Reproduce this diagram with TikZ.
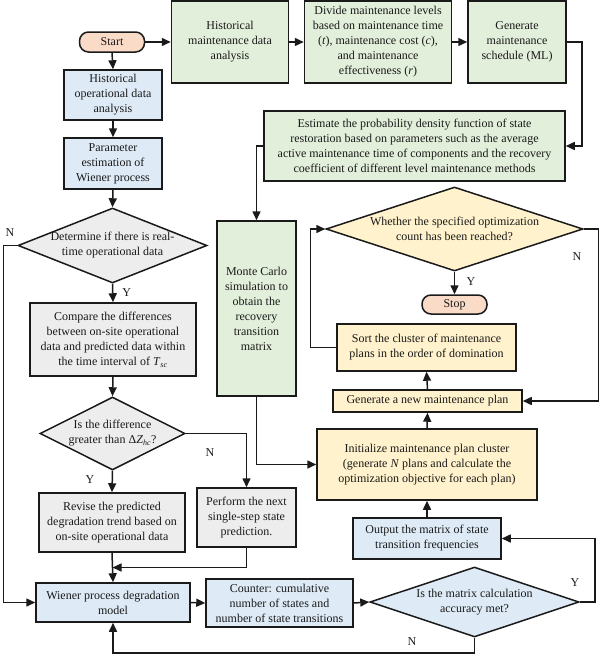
\documentclass[tikz,border=0pt]{standalone}
\usepackage{fontspec}
\setmainfont{Liberation Serif}
\usetikzlibrary{arrows.meta,shapes.geometric,calc}
\definecolor{cgreen}{HTML}{E2EFDA}
\definecolor{cblue}{HTML}{DEEBF7}
\definecolor{cgray}{HTML}{EDEDED}
\definecolor{cyellow}{HTML}{FFF2CC}
\definecolor{cpeach}{HTML}{FADBC8}
\definecolor{ink}{HTML}{1A1A1A}
\begin{document}
\begin{tikzpicture}[x=1pt,y=-1pt,
  every node/.style={font=\fontsize{12}{15}\selectfont, text=ink},
  box/.style={draw=ink, line width=1.5pt, align=center, inner sep=0pt},
  term/.style={box, rounded corners=9pt, fill=cpeach},
  dia/.style={draw=ink, line width=1.5pt, diamond, inner sep=0pt},
  txt/.style={align=center, inner sep=0pt},
  lbl/.style={inner sep=0pt},
  arr/.style={draw=ink, -{Triangle[length=9pt,width=8pt]}, line width=1.5pt}]
\useasboundingbox (0,0) rectangle (599,656);
% top row
\node[term, minimum width=65pt, minimum height=20pt] (start) at (112,42) {Start};
\node[box, fill=cgreen, minimum width=117pt, minimum height=82pt] (hm) at (230,42) {Historical\\maintenance data\\analysis};
\node[box, fill=cgreen, minimum width=147pt, minimum height=82pt] (div) at (378,42) {Divide maintenance levels\\based on maintenance time\\(\textit{t}), maintenance cost (\textit{c}),\\and maintenance\\effectiveness (\textit{r})};
\node[box, fill=cgreen, minimum width=98pt, minimum height=82pt] (gen) at (517,42) {Generate\\maintenance\\schedule (ML)};
\node[box, fill=cgreen, minimum width=301pt, minimum height=70pt] (est) at (414.5,146) {Estimate the probability density function of state\\restoration based on parameters such as the average\\active maintenance time of components and the recovery\\coefficient of different level maintenance methods};
\node[box, fill=cgreen, minimum width=79pt, minimum height=175pt] (mc) at (256.5,308.5) {Monte Carlo\\simulation to\\obtain the\\recovery\\transition\\matrix};
% left column
\node[box, fill=cblue, minimum width=98pt, minimum height=50pt] (ho) at (113,95) {Historical\\operational data\\analysis};
\node[box, fill=cblue, minimum width=98pt, minimum height=51pt] (pe) at (113,163.5) {Parameter\\estimation of\\Wiener process};
\node[dia, fill=cgray, minimum width=189pt, minimum height=75pt] (d1) at (112.5,245.5) {};
\node[txt] at (d1) {Determine if there is real-\\time operational data};
\node[box, fill=cgray, minimum width=166pt, minimum height=73pt] (cmp) at (113,339.5) {Compare the differences\\between on-site operational\\data and predicted data within\\the time interval of \textit{T}\textsubscript{\textit{sc}}};
\node[dia, fill=cgray, minimum width=145pt, minimum height=73pt] (d2) at (112.5,433.5) {};
\node[txt] at (d2) {Is the difference\\greater than Δ\textit{Z}\textsubscript{\textit{hc}}?};
\node[box, fill=cgray, minimum width=146pt, minimum height=59pt] (rev) at (112,522.5) {Revise the predicted\\degradation trend based on\\on-site operational data};
\node[box, fill=cgray, minimum width=99pt, minimum height=59pt] (per) at (246.5,517.5) {Perform the next\\single-step state\\prediction.};
\node[box, fill=cblue, minimum width=154pt, minimum height=39pt] (wn) at (113,602.5) {Wiener process degradation\\model};
\node[box, fill=cblue, minimum width=147pt, minimum height=48pt] (cnt) at (279.5,603) {Counter: cumulative\\number of states and\\number of state transitions};
\node[dia, fill=cblue, minimum width=209pt, minimum height=70pt] (d3) at (474.5,602) {};
\node[txt] at (d3) {Is the matrix calculation\\accuracy met?};
\node[box, fill=cblue, minimum width=148pt, minimum height=41pt] (out) at (427,538.5) {Output the matrix of state\\transition frequencies};
% right column
\node[box, fill=cyellow, minimum width=220pt, minimum height=71pt] (init) at (427,464.5) {Initialize maintenance plan cluster\\(generate \textit{N} plans and calculate the\\optimization objective for each plan)};
\node[box, fill=cyellow, minimum width=189pt, minimum height=22pt] (gnew) at (427.5,401) {Generate a new maintenance plan};
\node[box, fill=cyellow, minimum width=179pt, minimum height=47pt] (sort) at (426.5,347.5) {Sort the cluster of maintenance\\plans in the order of domination};
\node[dia, fill=cyellow, minimum width=257pt, minimum height=84pt] (d4) at (454.5,229) {};
\node[txt] at (d4) {Whether the specified optimization\\count has been reached?};
\node[term, minimum width=65pt, minimum height=19pt] (stop) at (454.5,304.5) {Stop};
% connectors
\draw[arr] (start.east) -- (hm.west);
\draw[arr] (hm.east) -- (div.west);
\draw[arr] (div.east) -- (gen.west);
\draw[arr] (gen.east) -- ++(15,0) |- (est.east);
\draw[arr] (est.west) -| (mc.north);
\draw[arr] (start.south) -- (ho.north);
\draw[arr] (ho.south) -- (pe.north);
\draw[arr] (pe.south) -- (d1.north);
\draw[arr] (d1.south) -- node[lbl, right, pos=0.45, xshift=9pt] {Y} (cmp.north);
\draw[arr] (d1.west) -- ++(-14,0) |- (wn.west);
\node[lbl] (n1) at (10,233) {N};
\draw[arr] (cmp.south) -- (d2.north);
\draw[arr] (d2.south) -- (rev.north);
\node[lbl] (y2) at (90,480) {Y};
\draw[arr] (d2.east) -| (per.north);
\node[lbl] (n2) at (210,453) {N};
\draw[arr] (rev.south) -- (wn.north);
\draw[arr] (per.south) |- ($(rev.south)!0.5!(wn.north)$);
\draw[arr] (wn.east) -- (cnt.west);
\draw[arr] (cnt.east) -- (d3.west);
\draw[arr] (d3.east) -- ++(15,0) |- (out.east);
\node[lbl] (y3) at (575,583) {Y};
\draw[arr] (d3.south) -- ++(0,15) -| (wn.south);
\node[lbl] (n3) at (412,642) {N};
\draw[arr] (out.north) -- (init.south);
\draw[arr] (mc.south) |- (init.west);
\draw[arr] (init.north) -- (gnew.south);
\draw[arr] (gnew.north) -- (sort.south);
\draw[arr] (sort.west) -- ++(-26,0) |- (d4.west);
\draw[arr] (d4.east) -- ++(15,0) |- (gnew.east);
\node[lbl] (n4) at (577,257) {N};
\draw[arr] (d4.south) -- (stop.north);
\node[lbl] (y4) at (471,282) {Y};
\end{tikzpicture}
\end{document}
